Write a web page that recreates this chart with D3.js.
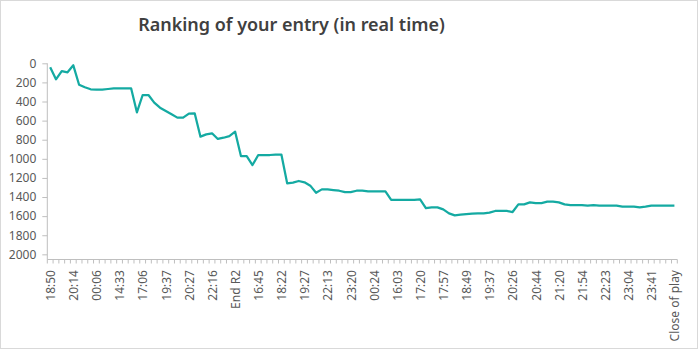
<!DOCTYPE html>
<html>
<head>
<meta charset="utf-8">
<script src="https://cdn.jsdelivr.net/npm/d3@7"></script>
<style>
  html, body { margin: 0; padding: 0; background: #fff; }
  svg { display: block; font-family: "Segoe UI", "Noto Sans", "Open Sans", sans-serif; }
</style>
</head>
<body>
<svg id="chart" width="699" height="350"></svg>
<script>
// Ranking position after each update (lower number = better rank)
const rankValues = [
  42, 168, 81, 94, 21, 224, 251, 272, 275, 275,
  269, 262, 262, 262, 262, 513, 332, 332, 412, 465,
  499, 534, 569, 569, 527, 524, 768, 744, 733, 792,
  779, 762, 716, 971, 971, 1065, 960, 960, 960, 955,
  955, 1256, 1249, 1232, 1246, 1281, 1355, 1320, 1320, 1327,
  1334, 1348, 1348, 1334, 1334, 1341, 1341, 1341, 1341, 1431,
  1431, 1431, 1431, 1431, 1424, 1515, 1508, 1508, 1529, 1571,
  1592, 1585, 1578, 1574, 1571, 1571, 1564, 1546, 1546, 1546,
  1557, 1477, 1477, 1456, 1463, 1463, 1449, 1449, 1456, 1477,
  1484, 1484, 1484, 1491, 1484, 1491, 1491, 1491, 1491, 1501,
  1501, 1501, 1508, 1501, 1491, 1491, 1491, 1491, 1491
];

// Labels shown on every fourth update
const tickLabels = [
  "18:50", "20:14", "00:06", "14:33", "17:06", "19:37", "20:27",
  "22:16", "End R2", "16:45", "18:22", "19:27", "22:13", "23:20",
  "00:24", "16:03", "17:20", "17:57", "18:49", "19:37", "20:26",
  "20:44", "21:20", "21:54", "22:23", "23:04", "23:41", "Close of play"
];
const labelEvery = 4;

const yTicks = [0, 200, 400, 600, 800, 1000, 1200, 1400, 1600, 1800, 2000];

const titleText = "Ranking of your entry (in real time)";

const svg = d3.select("#chart");
const axisColor = "#bfbfbf";
const textColor = "#595959";

// Outer frame
svg.append("rect")
  .attr("x", 0.5).attr("y", 0.5)
  .attr("width", 697).attr("height", 348)
  .attr("fill", "#fff")
  .attr("stroke", "#d9d9d9");

const plot = { left: 47.3, right: 677.3, top: 63.3, bottom: 259.5 };

const x = d3.scaleBand()
  .domain(d3.range(rankValues.length))
  .range([plot.left, plot.right])
  .padding(0);
const bw = x.bandwidth();
const cx = i => x(i) + bw / 2;

// Reversed rank axis: best rank at top
const y = d3.scaleLinear()
  .domain([0, 2054])
  .range([plot.top, plot.bottom]);

// Title
const title = svg.append("text")
  .attr("x", 291.5)
  .attr("y", 31)
  .attr("text-anchor", "middle")
  .attr("fill", "#404040")
  .attr("font-weight", 600)
  .attr("font-size", 16)
  .text(titleText);
const tw = title.node().getComputedTextLength();
title.attr("font-size", 16 * 307 / tw);

// Y axis
const yAxis = svg.append("g")
  .attr("transform", `translate(${plot.left},0)`)
  .call(d3.axisLeft(y).tickValues(yTicks).tickSize(5).tickPadding(6).tickFormat(d3.format("d")));
yAxis.select(".domain").remove();
yAxis.append("line")
  .attr("x1", 0).attr("x2", 0)
  .attr("y1", plot.top).attr("y2", plot.bottom)
  .attr("stroke", axisColor);
yAxis.selectAll(".tick line").attr("stroke", axisColor);
yAxis.selectAll(".tick text")
  .attr("fill", textColor)
  .attr("font-size", 12)
  .attr("font-family", "'Segoe UI', 'Noto Sans', sans-serif");

// X axis: line with tick marks at category boundaries
const xAxis = svg.append("g");
xAxis.append("line")
  .attr("x1", plot.left).attr("x2", plot.right)
  .attr("y1", plot.bottom).attr("y2", plot.bottom)
  .attr("stroke", axisColor);
const boundaries = d3.range(rankValues.length + 1).map(i => plot.left + i * bw);
xAxis.selectAll("line.tk")
  .data(boundaries)
  .join("line")
  .attr("class", "tk")
  .attr("x1", d => d).attr("x2", d => d)
  .attr("y1", plot.bottom).attr("y2", plot.bottom + 4)
  .attr("stroke", axisColor);

xAxis.selectAll("text")
  .data(tickLabels)
  .join("text")
  .attr("transform", (d, k) => `translate(${cx(k * labelEvery)},270) rotate(-90)`)
  .attr("text-anchor", "end")
  .attr("dy", "0.4em")
  .attr("fill", textColor)
  .attr("font-size", 12)
  .text(d => d);

// Ranking line
const line = d3.line()
  .x((d, i) => cx(i))
  .y(d => y(d));

svg.append("path")
  .datum(rankValues)
  .attr("d", line)
  .attr("fill", "none")
  .attr("stroke", "#14aaa2")
  .attr("stroke-width", 2.25)
  .attr("stroke-linejoin", "round");
</script>
</body>
</html>
